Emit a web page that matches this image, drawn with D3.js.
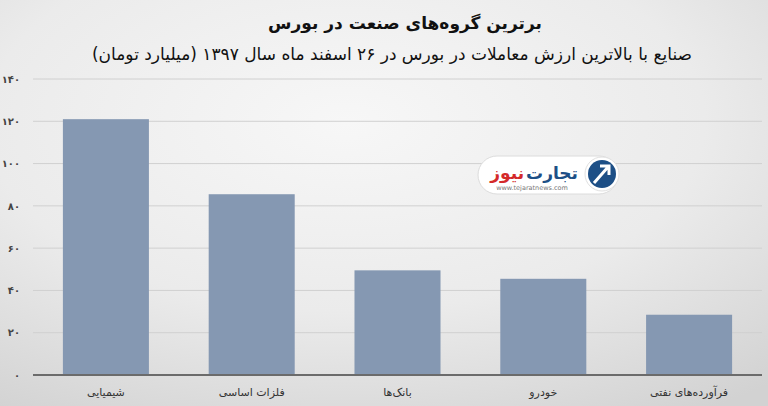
<!DOCTYPE html>
<html><head><meta charset="utf-8">
<script src="https://cdn.jsdelivr.net/npm/d3@7"></script>
<style>html,body{margin:0;padding:0;}svg{display:block;}</style>
</head><body>
<svg id="c" width="768" height="406"></svg>
<script>
const categories = ["شیمیایی", "فلزات اساسی", "بانک‌ها", "خودرو", "فرآورده‌های نفتی"];
const values = [121, 85.5, 49.5, 45.5, 28.5];
const yTicks = [0, 20, 40, 60, 80, 100, 120, 140];
const title = "برترین گروه‌های صنعت در بورس";
const subtitle = "صنایع با بالاترین ارزش معاملات در بورس در ۲۶ اسفند ماه سال ۱۳۹۷ (میلیارد تومان)";

const faDigits = s => String(s).replace(/\d/g, d => "۰۱۲۳۴۵۶۷۸۹"[d]);
const svg = d3.select("#c");
const W = 768, H = 406;
const defs = svg.append("defs");
const g1 = defs.append("radialGradient").attr("id","bg").attr("cx","0.45").attr("cy","0.3").attr("r","0.85");
g1.append("stop").attr("offset","0").attr("stop-color","#f7f7f7");
g1.append("stop").attr("offset","0.55").attr("stop-color","#ebebeb");
g1.append("stop").attr("offset","1").attr("stop-color","#d2d2d2");
svg.append("rect").attr("width",W).attr("height",H).attr("fill","url(#bg)");

const x = d3.scaleBand().domain(categories).range([33, 762]).paddingInner(0.41).paddingOuter(0.205);
const y = d3.scaleLinear().domain([0, 140]).range([375, 79]);

// gridlines
svg.append("g").selectAll("line").data(yTicks.filter(d=>d>0)).join("line")
  .attr("x1",33).attr("x2",762).attr("y1",d=>y(d)).attr("y2",d=>y(d))
  .attr("stroke","#d0d0d0").attr("stroke-width",1);

// bars
svg.append("g").selectAll("rect").data(values).join("rect")
  .attr("x",(d,i)=>x(categories[i])).attr("width",x.bandwidth())
  .attr("y",d=>y(d)).attr("height",d=>y(0)-y(d))
  .attr("fill","#8598b2");

// axis line
svg.append("line").attr("x1",33).attr("x2",762).attr("y1",y(0)).attr("y2",y(0))
  .attr("stroke","#6b6b6b").attr("stroke-width",2);

// y axis
const yAxis = d3.axisLeft(y).tickValues(yTicks).tickSize(0).tickFormat(d=>faDigits(d));
const ya = svg.append("g").attr("transform","translate(20,0)").call(yAxis);
ya.select(".domain").remove();
ya.selectAll("text").attr("font-family","DejaVu Sans").attr("font-size",10).attr("font-weight","bold").attr("fill","#444").attr("x",0);

// x labels
const xAxis = d3.axisBottom(x).tickSize(0);
const xa = svg.append("g").attr("transform",`translate(0,${y(0)})`).call(xAxis);
xa.select(".domain").remove();
xa.selectAll("text").attr("font-family","DejaVu Sans").attr("font-size",11).attr("fill","#333").attr("dy","0").attr("y",21).attr("direction","rtl");

// titles
svg.append("text").attr("x",405).attr("y",29).attr("text-anchor","middle").attr("direction","rtl")
  .attr("font-family","DejaVu Sans").attr("font-size",17).attr("font-weight","bold").attr("fill","#111").text(title);
svg.append("text").attr("x",392).attr("y",60).attr("text-anchor","middle").attr("direction","rtl")
  .attr("font-family","DejaVu Sans").attr("font-size",17).attr("fill","#111").text(subtitle);

// logo
const lg = svg.append("g");
lg.append("rect").attr("x",478).attr("y",156).attr("width",140).attr("height",38).attr("rx",19)
  .attr("fill","#fff").attr("stroke","#dcdcdc");
lg.append("circle").attr("cx",602).attr("cy",174).attr("r",17).attr("fill","#fff").attr("stroke","#e0e0e0");
lg.append("circle").attr("cx",602).attr("cy",174).attr("r",14).attr("fill","#1d4f86");
lg.append("path").attr("d","M594,183 L608,167 M600,166 L609,166 L609,175").attr("stroke","#fff").attr("stroke-width",3).attr("fill","none");
const t1 = lg.append("text").attr("x",578).attr("y",179).attr("text-anchor","end")
  .attr("font-family","DejaVu Sans").attr("font-size",17).attr("font-weight","bold").attr("fill","#1d4f86").text("تجارت");
const w1 = t1.node().getComputedTextLength();
lg.append("text").attr("x",578 - w1 - 2).attr("y",179).attr("text-anchor","end")
  .attr("font-family","DejaVu Sans").attr("font-size",17).attr("font-weight","bold").attr("fill","#d42a2a").text("نیوز");
lg.append("text").attr("x",532).attr("y",190).attr("text-anchor","middle")
  .attr("font-family","DejaVu Sans").attr("font-size",6.5).attr("fill","#777").text("www.tejaratnews.com");
</script>
</body></html>
